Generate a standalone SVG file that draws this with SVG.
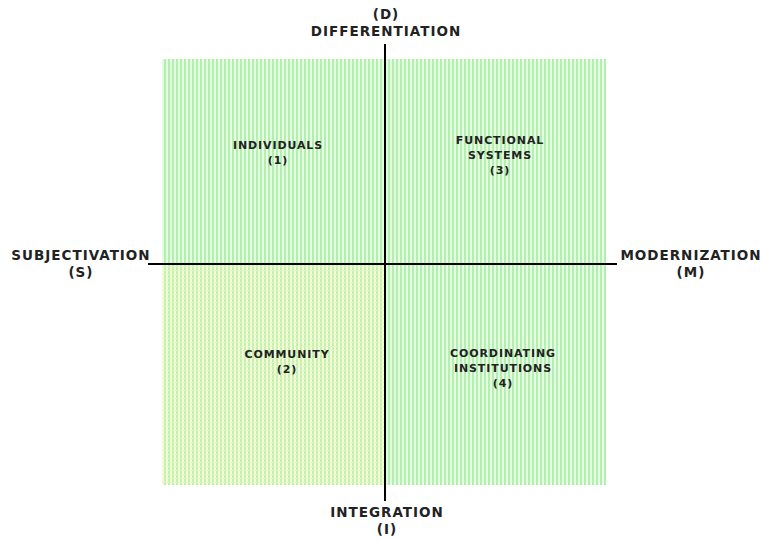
<svg xmlns="http://www.w3.org/2000/svg" width="761" height="540" viewBox="0 0 761 540">
  <defs>
    <pattern id="stripes" x="0" y="0" width="4" height="4" patternUnits="userSpaceOnUse">
      <rect width="4" height="4" fill="#e6fbe4"/>
      <rect x="0" width="2" height="4" fill="#b3efad"/>
    </pattern>
    <pattern id="checks" x="0" y="0" width="4" height="4" patternUnits="userSpaceOnUse">
      <rect width="4" height="4" fill="#f6fbd6"/>
      <rect x="0" width="2" height="4" fill="#c0f2b6"/>
      <rect y="2" width="4" height="1" fill="#e4f8c0" opacity="0.8"/>
    </pattern>
  </defs>
  <style>
    .axis { font-family: "DejaVu Sans", Verdana, sans-serif; font-weight: bold; font-size: 13.5px; letter-spacing: 1px; fill: #222; text-anchor: middle; }
    .quad { font-family: "DejaVu Sans", Verdana, sans-serif; font-weight: bold; font-size: 11px; letter-spacing: 0.9px; fill: #222; text-anchor: middle; }
    .line { stroke: #000; stroke-width: 2; fill: none; }
  </style>
  <rect width="761" height="540" fill="#fff"/>

  <!-- quadrant fills -->
  <g id="quadrants">
    <rect x="162" y="59" width="223" height="205" fill="url(#stripes)"/>
    <rect x="385" y="59" width="221" height="205" fill="url(#stripes)"/>
    <rect x="162" y="264" width="223" height="221" fill="url(#checks)"/>
    <rect x="385" y="264" width="221" height="221" fill="url(#stripes)"/>
  </g>

  <!-- axes -->
  <g id="connectors">
    <line class="line" x1="385" y1="44" x2="385" y2="501"/>
    <line class="line" x1="148" y1="264" x2="617" y2="264"/>
  </g>

  <g id="axis-top">
    <text class="axis" x="386" y="19">(D)</text>
    <text class="axis" x="386" y="36">DIFFERENTIATION</text>
  </g>
  <g id="axis-left">
    <text class="axis" x="81" y="260">SUBJECTIVATION</text>
    <text class="axis" x="81" y="277">(S)</text>
  </g>
  <g id="axis-right">
    <text class="axis" x="691" y="260">MODERNIZATION</text>
    <text class="axis" x="691" y="277">(M)</text>
  </g>
  <g id="axis-bottom">
    <text class="axis" x="387" y="517">INTEGRATION</text>
    <text class="axis" x="387" y="534">(I)</text>
  </g>

  <g id="individuals">
    <text class="quad" x="278" y="149">INDIVIDUALS</text>
    <text class="quad" x="278" y="164">(1)</text>
  </g>
  <g id="functional-systems">
    <text class="quad" x="500" y="144">FUNCTIONAL</text>
    <text class="quad" x="500" y="159">SYSTEMS</text>
    <text class="quad" x="500" y="174">(3)</text>
  </g>
  <g id="community">
    <text class="quad" x="287" y="358">COMMUNITY</text>
    <text class="quad" x="287" y="373">(2)</text>
  </g>
  <g id="coordinating-institutions">
    <text class="quad" x="503" y="357">COORDINATING</text>
    <text class="quad" x="503" y="372">INSTITUTIONS</text>
    <text class="quad" x="503" y="387">(4)</text>
  </g>
</svg>
